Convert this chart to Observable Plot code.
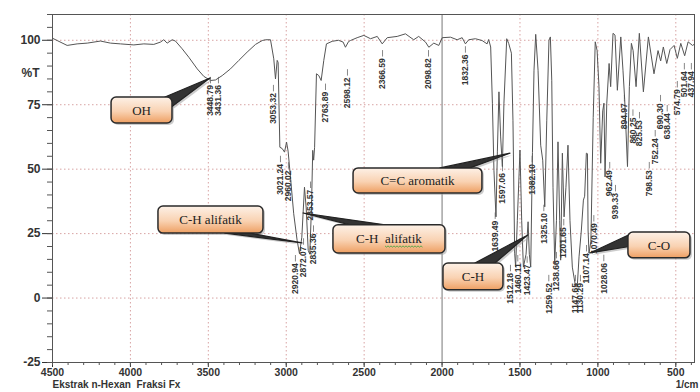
<!DOCTYPE html>
<html><head><meta charset="utf-8">
<script src="https://cdn.jsdelivr.net/npm/d3@7"></script>
<script src="https://cdn.jsdelivr.net/npm/@observablehq/plot@0.6"></script>
<style>body{margin:0;background:#fff;} svg{display:block}</style>
</head><body><div id="chart"></div>
<script>
// FTIR spectrum (wavenumber 1/cm, %T)
const wavenumber = [4500,4470,4406,4342,4277,4192,4128,4064,3978,3914,3850,3807,3786,3764,3732,3711,3668,3625,3571,3529,3486,3454,3411,3358,3304,3251,3197,3154,3133,3101,3080,3069,3058,3052,3041,3026,3011,2998,2988,2973,2952,2930,2915,2900,2883,2872,2859,2849,2838,2830,2824,2818,2806,2791,2776,2759,2742,2705,2665,2635,2620,2600,2588,2545,2502,2459,2416,2384,2352,2288,2235,2182,2150,2106,2085,2053,2021,1999,1946,1903,1871,1850,1829,1786,1743,1711,1701,1688,1677,1667,1654,1645,1635,1624,1613,1603,1585,1572,1555,1545,1534,1528,1517,1500,1489,1478,1461,1448,1440,1431,1420,1410,1399,1384,1367,1354,1341,1328,1314,1305,1296,1288,1277,1266,1256,1245,1239,1228,1217,1205,1192,1179,1164,1147,1142,1131,1121,1106,1093,1085,1074,1067,1063,1057,1045,1030,1017,1005,993,982,969,961,954,943,928,918,903,890,875,853,839,828,810,798,785,774,755,734,708,676,640,614,597,580,558,537,511,490,468,443,421,393,380];
const transmittance = [100.8,99.9,98,98.6,98.9,99.7,98.9,98.6,98.2,98.6,98.4,99.3,100.2,98.9,100.2,99.7,96.7,93.4,88.9,86,84.4,84.6,86.3,88.9,92.2,95.4,98.4,99.9,100.2,100.2,92.8,85,92.2,91.4,58.5,58,56.6,60.5,57,47,32.7,22.3,17.2,23.6,43,35,18.5,17,35,57.3,53.5,58.5,87,86.3,84.4,92.2,98.6,99.6,100,99.3,97.3,99.5,99.9,101,101.9,100.6,101.5,98.6,101,101.5,102.5,100.2,101.5,99.3,97.3,98.9,98,101,101.2,100.2,101,98.6,100.2,100.6,99.9,98.6,100.3,97.4,75.6,49.6,31.5,57,80,62.5,51,75.6,100.6,98.7,95,69,17.4,12,30,57.4,30,12,17,29.6,17,12,56.4,88.4,102.3,88.4,59.3,53.5,35.4,69,100,101.3,84.5,43,13.5,30,60.6,30,14.7,56.2,31.5,43,59.3,30,12,5.8,4.4,5.8,16,26.4,38,39.5,56.2,56,26.4,17.4,22,70,99.4,96,82,52.3,72.6,75.6,47,75.6,91,82,102.7,102,80.6,101.3,88.4,77,51,82,98.8,96,82,102.7,80,101.3,87,96,92,97.4,91,96.4,98,93,98.8,94,99.4,98,98.5];

const xTicks = [4500,4000,3500,3000,2500,2000,1500,1000,500];
const xGrid = [4000,3500,3000,2500,1500,1000,500];
const yTicks = [100,75,50,25,0,-25];
const yGrid = [100,75,50,25,0];

// peak labels: text, label x (1/cm), label top (%T)
const peakText = ["3448.79","3431.36","3053.32","3021.24","2960.02","2920.94","2872.07","2853.57","2835.36","2763.89","2598.12","2366.59","2098.82","1832.36","1639.49","1597.06","1512.18","1460.11","1423.47","1382.10","1325.10","1259.52","1238.66","1201.65","1147.65","1130.29","1107.14","1070.49","1028.06","962.49","939.33","894.97","860.25","825.53","798.53","752.24","690.30","638.44","574.79","501.64","437.94"];
const peakX = [3486,3435,3082,3037,2986,2941,2889,2844,2825,2748,2607,2382,2087,1850,1659,1612,1561,1514,1454,1422,1347,1315,1266,1219,1144,1112,1073,1026,962,924,887,830,775,733,670,632,598,555,490,445,400];
const peakY = [82.6,82.6,79.5,52,49.5,13.5,20,42,25,80,85.6,93,93,94.5,30,48.5,9.7,13.5,13,52,33,5.8,14.7,27.5,5.8,5.8,17.4,29,13.6,49.6,40.7,75.6,70,69,49.6,62,75.6,71.7,81,88,88];

// callouts
const calloutText = ["OH","C=C aromatik","C-H alifatik","C-H\u00a0\u00a0alifatik","C-H","C-O"];
const boxLeft = [4121,2568,3820,2697,1991,804];
const boxRight = [3730,1741,3146,1978,1606,406];
const boxTop = [77.8,50.3,35.5,28.2,13.4,25.4];
const boxBottom = [67.7,40.6,25,17.3,3,15.4];
const tipX = [3486,1561,2896,2889,1446,1048];
const tipY = [85.2,56,21.2,32.8,24.3,17.3];
const baseA = [[3775,77.8],[2010,50.3],[3390,25],[2588,28.2],[1786,13.4],[804,24.2]];
const baseB = [[3730,74.1],[1818,50.3],[3229,25],[2363,28.2],[1657,13.4],[804,19.7]];

const spectrum = wavenumber.map((w, i) => ({w, t: transmittance[i]}));
const peaks = peakText.map((s, i) => ({s, x: peakX[i], y: peakY[i]}));

const chart = Plot.plot({
  width: 700, height: 392,
  marginLeft: 52, marginRight: 6, marginTop: 14, marginBottom: 30,
  x: {domain: [4500, 380], axis: null},
  y: {domain: [-25, 110], axis: null},
  style: {fontFamily: "Liberation Sans, Arial, sans-serif", background: "#fff", overflow: "visible"},
  marks: [
    Plot.gridX(xGrid, {stroke: "#d8a3a3", strokeOpacity: 1, strokeDasharray: "1.5,2.5"}),
    Plot.gridY(yGrid, {stroke: "#d8a3a3", strokeOpacity: 1, strokeDasharray: "1.5,2.5"}),
    Plot.ruleX([2000], {stroke: "#777", strokeWidth: 1}),
    Plot.frame({stroke: "#555"}),
    Plot.axisY(yTicks, {tickSize: 10, tickPadding: 2, fontSize: 12, fontWeight: "bold", color: "#333", tickFormat: d => String(d)}),
    Plot.axisY(d3.range(-25, 111, 5), {tickSize: 5, tickFormat: () => "", color: "#555"}),
    Plot.axisX(xTicks, {anchor: "bottom", tickSize: 5, tickPadding: 1, fontSize: 10.5, fontWeight: "bold", color: "#333", tickFormat: d => String(d)}),
    Plot.axisX(d3.range(400, 4501, 100), {anchor: "bottom", tickSize: 3, tickFormat: () => "", color: "#555"}),
    Plot.text(["%T"], {x: 4500, y: 87.1, dx: -13, textAnchor: "end", fontWeight: "bold", fontSize: 12, fill: "#333"}),
    Plot.text(["Ekstrak n-Hexan\u00a0\u00a0Fraksi Fx"], {frameAnchor: "bottom-left", dy: 25.5, textAnchor: "start", fontSize: 10, fontWeight: "bold", fill: "#333"}),
    Plot.text(["1/cm"], {frameAnchor: "bottom-right", dy: 25.5, dx: 4, textAnchor: "end", fontSize: 10, fontWeight: "bold", fill: "#333"}),
    Plot.line(spectrum, {x: "w", y: "t", stroke: "#555", strokeWidth: 1, strokeLinejoin: "round"}),
    Plot.ruleX(peaks, {x: "x", y1: d => d.y + 0.5, y2: d => d.y + 3, stroke: "#555", strokeWidth: 0.7}),
    Plot.text(peaks, {x: "x", y: "y", text: "s", rotate: -90, textAnchor: "end", fontSize: 8.5, fontWeight: "bold", fill: "#333"})
  ]
});
document.getElementById("chart").appendChild(chart);

// callout boxes drawn through the plot's scales
const sx = chart.scale("x"), sy = chart.scale("y");
const svg = d3.select(chart);
const defs = svg.append("defs");
const grad = defs.append("linearGradient").attr("id", "cg").attr("x1", 0).attr("y1", 0).attr("x2", 0).attr("y2", 1);
grad.append("stop").attr("offset", "0%").attr("stop-color", "#fdf1e7");
grad.append("stop").attr("offset", "55%").attr("stop-color", "#f9d2b2");
grad.append("stop").attr("offset", "100%").attr("stop-color", "#ee9f62");
const g = svg.append("g");
calloutText.forEach((txt, i) => {
  const x0 = sx.apply(boxLeft[i]), x1 = sx.apply(boxRight[i]);
  const y0 = sy.apply(boxTop[i]), y1 = sy.apply(boxBottom[i]);
  const tip = [sx.apply(tipX[i]), sy.apply(tipY[i])];
  const a = [sx.apply(baseA[i][0]), sy.apply(baseA[i][1])];
  const b = [sx.apply(baseB[i][0]), sy.apply(baseB[i][1])];
  const wedge = `M${a}L${tip}L${b}Z`;
  g.append("path").attr("d", wedge).attr("transform", "translate(2,2)").attr("fill", "#999").attr("opacity", 0.5);
  g.append("rect").attr("x", x0 + 2).attr("y", y0 + 2).attr("width", x1 - x0).attr("height", y1 - y0)
    .attr("rx", 5).attr("fill", "#999").attr("opacity", 0.5);
  g.append("path").attr("d", wedge).attr("fill", "#333").attr("stroke", "#222").attr("stroke-width", 1.2).attr("stroke-linejoin", "round");
  g.append("rect").attr("x", x0).attr("y", y0).attr("width", x1 - x0).attr("height", y1 - y0)
    .attr("rx", 5).attr("fill", "url(#cg)").attr("stroke", "#2a2a2a").attr("stroke-width", 1.5);
  const cx = (x0 + x1) / 2, cy = (y0 + y1) / 2;
  const t = g.append("text").attr("x", cx).attr("y", cy).attr("dy", "0.35em")
    .attr("text-anchor", "middle").attr("font-family", "Liberation Serif, Times New Roman, serif")
    .attr("font-size", 13).attr("fill", "#222");
  if (i === 3) {
    const t1 = t.append("tspan").text("C-H\u00a0\u00a0");
    t.append("tspan").text("alifatik");
    const total = t.node().getComputedTextLength();
    const w1 = t1.node().getComputedTextLength();
    const xs = cx - total / 2 + w1, xe = cx + total / 2, yy = cy + 7;
    let d = `M${xs},${yy}`;
    for (let x = xs, k = 0; x < xe; x += 1.5, k++) d += `L${x + 1.5},${yy + (k % 2 ? 0 : 1.2)}`;
    g.append("path").attr("d", d).attr("fill", "none").attr("stroke", "#3aa03a").attr("stroke-width", 0.8);
  } else {
    t.text(txt);
  }
});
</script>
</body></html>
